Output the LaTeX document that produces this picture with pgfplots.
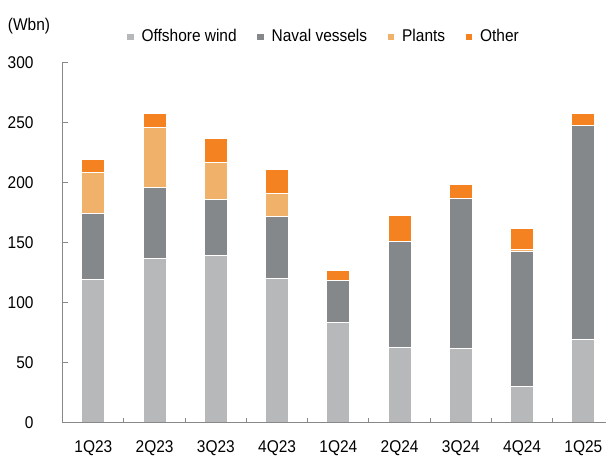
\documentclass[border=0pt]{standalone}
\usepackage{fontspec}
\setmainfont{Liberation Sans}[FakeStretch=0.91]
\usepackage{pgfplots}
\pgfplotsset{compat=1.18}
\definecolor{cOff}{HTML}{B7B8B9}
\definecolor{cNav}{HTML}{85888A}
\definecolor{cPla}{HTML}{F0B26A}
\definecolor{cOth}{HTML}{F58220}
\definecolor{cAx}{HTML}{888888}
\begin{document}
\fontsize{17}{20}\selectfont
\begin{tikzpicture}[x=1pt,y=1pt]
\path[use as bounding box] (0,0) rectangle (606,456);
\begin{axis}[
  at={(62.7pt,33.3pt)}, anchor=south west, scale only axis,
  width=543.3pt, height=360.4pt,
  ybar stacked, bar width=0.375,
  xmin=-0.5, xmax=8.37, ymin=0, ymax=300,
  axis on top,
  axis x line*=bottom, axis y line*=left,
  axis line style={cAx, line width=1pt, -},
  xtick={0.5,1.5,...,7.5}, xticklabels={},
  extra x ticks={0,1,2,3,4,5,6,7,8},
  extra x tick labels={1Q23,2Q23,3Q23,4Q23,1Q24,2Q24,3Q24,4Q24,1Q25},
  extra x tick style={tick style={draw=none}},
  ytick={0,50,...,300},
  tick align=inside, major tick length=5pt,
  tick style={cAx, line width=1pt},
  /pgf/number format/assume math mode=true,
  xticklabel style={inner sep=0pt, anchor=north, yshift=-18pt},
  yticklabel style={inner sep=0pt, anchor=east, xshift=-29pt},
  every axis plot/.append style={draw=white, line width=1pt},
  legend style={at={(0.4804,1.0702)}, anchor=center, draw=none, fill=none,
    inner sep=0pt, legend columns=4,
    /tikz/every even column/.style={column sep=18pt},
    cells={anchor=west}},
  legend image code/.code={\fill[#1,draw=none] (0pt,-3.4pt) rectangle (6.8pt,3.4pt); \path (0pt,0pt) (12pt,0pt);},
]
\addplot[fill=cOff] coordinates {(0,119) (1,136.5) (2,139) (3,120) (4,83) (5,63) (6,61.5) (7,30) (8,69)};
\addplot[fill=cNav] coordinates {(0,55) (1,59.5) (2,46.5) (3,52) (4,35) (5,88) (6,125) (7,112.5) (8,178)};
\addplot[fill=cPla] coordinates {(0,34) (1,50) (2,31.5) (3,19) (4,0) (5,0) (6,0) (7,2) (8,0)};
\addplot[fill=cOth] coordinates {(0,11) (1,11.5) (2,19.5) (3,20) (4,8.5) (5,21.5) (6,12) (7,17.5) (8,10)};
\legend{Offshore wind, Naval vessels, Plants, Other}
\end{axis}
\node at (29,429.5) {(Wbn)};
\end{tikzpicture}
\end{document}
